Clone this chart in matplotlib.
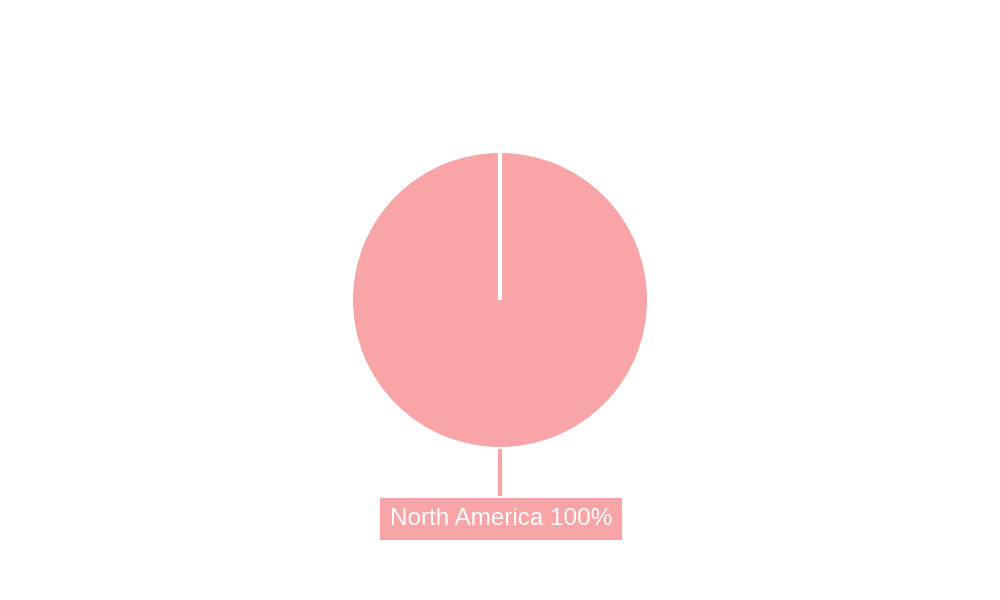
import matplotlib
matplotlib.use("Agg")
from matplotlib import pyplot as plt

# Data
regions = ['North America']
shares = [100]

color = '#f9a5a7'

fig = plt.figure(figsize=(10, 6), dpi=100)
ax = fig.add_axes([0, 0, 1, 1])

cx, cy, r = 500, 300, 147
wedges, _ = ax.pie(shares, colors=[color], center=(cx, cy), radius=r,
                   startangle=90, counterclock=False, frame=True,
                   wedgeprops=dict(linewidth=0))
ax.set_xlim(0, 1000)
ax.set_ylim(0, 600)
ax.set_aspect('equal')
ax.axis('off')

# slice boundary (start of the first slice at 12 o'clock)
ax.plot([cx, cx], [cy, cy + r + 1], color='white', lw=3, solid_capstyle='butt', zorder=3)

# label with leader line
total = sum(shares)
for name, val in zip(regions, shares):
    pct = round(val / total * 100)
    ax.plot([cx, cx], [cy - r - 2, 104], color=color, lw=3, solid_capstyle='butt')
    ax.text(cx + 1, 81, f'{name} {pct}%', ha='center', va='center',
            fontsize=17.5, color='white', family=['Liberation Sans', 'DejaVu Sans'],
            bbox=dict(boxstyle='square,pad=0.4', fc=color, ec='none'))

fig.savefig('out.png', dpi=100)
